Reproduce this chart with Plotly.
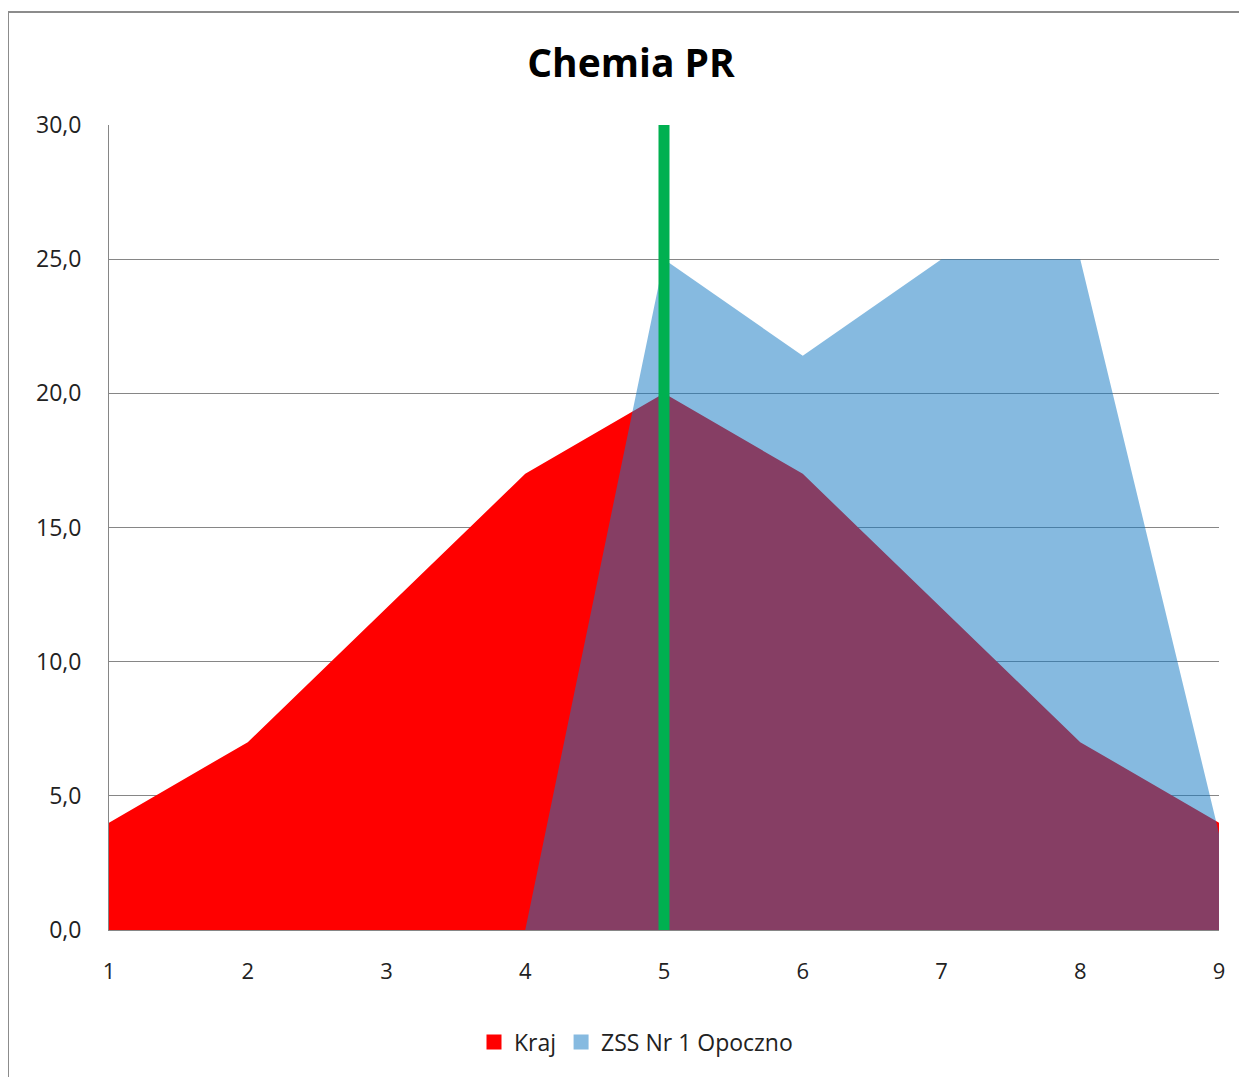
import plotly.graph_objects as go

categories = [1, 2, 3, 4, 5, 6, 7, 8, 9]
kraj = [4.0, 7.0, 12.0, 17.0, 20.0, 17.0, 12.0, 7.0, 4.0]
zss = [0.0, 0.0, 0.0, 0.0, 25.0, 21.4, 25.0, 25.0, 3.6]
marker_x = [5, 5]
marker_y = [0, 30]
y_ticks = [0, 5, 10, 15, 20, 25, 30]

KRAJ_COLOR = "#FF0000"
ZSS_COLOR = "rgba(19,120,194,0.514)"
ZSS_LEGEND = "#86BAE0"

# page body adds an 8px offset; work in reference pixel coords minus offset
OFF = 8
W, H = 1247 - OFF, 1077 - OFF
L, T = 109 - OFF, 125 - OFF
R = W - (1219 - OFF)
B = H - (930 - OFF)
pw, ph = W - L - R, H - T - B

fig = go.Figure()
fig.add_trace(go.Scatter(
    x=categories, y=kraj, name="Kraj", mode="none", showlegend=False,
    fill="tozeroy", fillcolor=KRAJ_COLOR,
))
fig.add_trace(go.Scatter(
    x=categories, y=zss, name="ZSS Nr 1 Opoczno", mode="none", showlegend=False,
    fill="tozeroy", fillcolor=ZSS_COLOR,
))
fig.add_trace(go.Scatter(
    x=marker_x, y=marker_y, mode="lines", showlegend=False,
    line=dict(width=11, color="#00B050"), hoverinfo="skip",
))
# legend entries (square swatches)
fig.add_trace(go.Scatter(x=[None], y=[None], mode="markers", name="Kraj",
                         marker=dict(symbol="square", size=15, color=KRAJ_COLOR)))
fig.add_trace(go.Scatter(x=[None], y=[None], mode="markers", name="ZSS Nr 1 Opoczno",
                         marker=dict(symbol="square", size=15, color=ZSS_LEGEND)))

def px_x(p):
    return (p - OFF - L) / pw

def px_y(p):
    return (H - B - (p - OFF)) / ph

fig.update_layout(
    width=W, height=H,
    margin=dict(l=L, r=R, t=T, b=B),
    paper_bgcolor="white", plot_bgcolor="white",
    separators=",.",
    title=dict(text="<b>Chemia PR</b>", x=(631 - OFF) / W, xanchor="center",
               y=1 - (63 - OFF) / H, yanchor="middle",
               font=dict(family="Open Sans", size=39, color="black")),
    font=dict(family="Open Sans", size=22, color="#222222"),
    showlegend=True,
    legend=dict(orientation="h", x=px_x(636), xanchor="center", y=px_y(1042), yanchor="middle",
                font=dict(family="Open Sans", size=23, color="#222222"),
                itemwidth=30, traceorder="normal"),
    xaxis=dict(range=[1, 9], tickvals=categories, ticktext=[str(c) for c in categories],
               showgrid=False, zeroline=False, showline=True, linecolor="#868686", linewidth=1,
               ticks="", ticklabelstandoff=22, tickfont=dict(size=22)),
    yaxis=dict(range=[0, 30], tickvals=y_ticks, tickformat=".1f",
               showgrid=True, gridcolor="#868686", gridwidth=1, zeroline=False,
               showline=True, linecolor="#868686", linewidth=1,
               ticks="", ticklabelstandoff=22, tickfont=dict(size=23)),
    shapes=[
        dict(type="line", xref="paper", yref="paper", x0=px_x(8), x1=px_x(8),
             y0=px_y(1100), y1=px_y(12), line=dict(color="#8C8C8C", width=2)),
        dict(type="line", xref="paper", yref="paper", x0=px_x(8), x1=px_x(1300),
             y0=px_y(12), y1=px_y(12), line=dict(color="#8C8C8C", width=2)),
    ],
)

fig.write_html("out.html")
